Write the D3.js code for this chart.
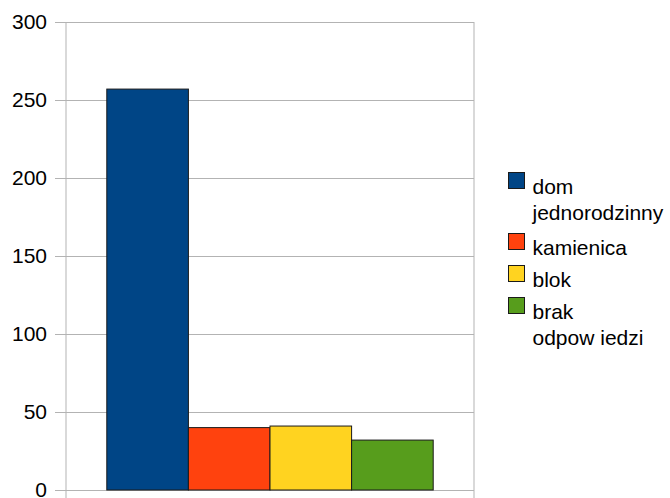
<!DOCTYPE html>
<html>
<head>
<meta charset="utf-8">
<script src="https://cdn.jsdelivr.net/npm/d3@7"></script>
<style>
  body { margin: 0; background: #fff; }
  text { font-family: "Liberation Sans", Arial, sans-serif; }
</style>
</head>
<body>
<div id="chart"></div>
<script>
// data
var seriesNames = ["dom jednorodzinny", "kamienica", "blok", "brak odpowiedzi"];
var seriesValues = [257, 40, 41, 32];
var seriesColors = ["#004586", "#ff420e", "#ffd320", "#579d1c"];
var legendLines = [["dom", "jednorodzinny"], ["kamienica"], ["blok"], ["brak", "odpow iedzi"]];
var yTicks = [0, 50, 100, 150, 200, 250, 300];

var svgWidth = 670, svgHeight = 498;
var plot = { left: 66, right: 474, top: 22, bottom: 490 };

var svg = d3.select("#chart").append("svg")
    .attr("width", svgWidth)
    .attr("height", svgHeight);

var yScale = d3.scaleLinear()
    .domain([0, 300])
    .range([plot.bottom, plot.top]);

var xScale = d3.scaleBand()
    .domain(seriesNames)
    .range([plot.left, plot.right])
    .paddingInner(0)
    .paddingOuter(0.5);

// gridlines + y labels
var leftAxis = d3.axisLeft(yScale)
    .tickValues(yTicks)
    .tickSize(-(plot.right - plot.left + 11))
    .tickPadding(8);

var yAxisG = svg.append("g")
    .attr("transform", "translate(" + (plot.left - 11) + ",0)")
    .call(leftAxis);
yAxisG.select(".domain").remove();
yAxisG.selectAll(".tick line")
    .attr("stroke", "#b3b3b3")
    .attr("stroke-width", 1);
yAxisG.selectAll(".tick text")
    .attr("fill", "#000")
    .style("font-size", "21px");

// vertical frame lines (category axis edges)
svg.append("line")
    .attr("x1", plot.left).attr("x2", plot.left)
    .attr("y1", plot.top).attr("y2", plot.bottom + 8)
    .attr("stroke", "#b3b3b3");
svg.append("line")
    .attr("x1", plot.right).attr("x2", plot.right)
    .attr("y1", plot.top).attr("y2", plot.bottom + 8)
    .attr("stroke", "#b3b3b3");

// bars
svg.append("g").selectAll("rect")
    .data(seriesValues)
    .enter()
    .append("rect")
    .attr("x", function (d, i) { return xScale(seriesNames[i]); })
    .attr("y", function (d) { return yScale(d); })
    .attr("width", xScale.bandwidth())
    .attr("height", function (d) { return yScale(0) - yScale(d); })
    .attr("fill", function (d, i) { return seriesColors[i]; })
    .attr("stroke", "#1a1a1a")
    .attr("stroke-width", 1);

// legend
var legendRowY = [172, 233, 265, 297];
var legend = svg.append("g");
legendLines.forEach(function (lines, i) {
    var g = legend.append("g").attr("transform", "translate(508.5," + (legendRowY[i] + 0.5) + ")");
    g.append("rect")
        .attr("width", 16).attr("height", 16)
        .attr("fill", seriesColors[i])
        .attr("stroke", "#1a1a1a");
    lines.forEach(function (t, j) {
        g.append("text")
            .attr("x", 24)
            .attr("y", 21 + j * 26)
            .style("font-size", "21px")
            .attr("fill", "#000")
            .text(t);
    });
});
</script>
</body>
</html>
